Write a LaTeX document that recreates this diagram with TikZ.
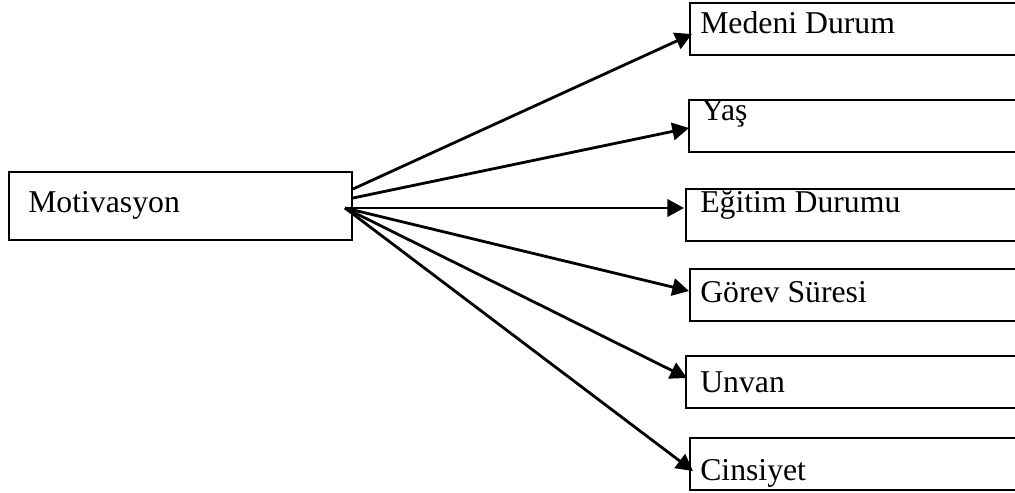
\documentclass[tikz,border=0pt]{standalone}
\usepackage{fontspec}
\setmainfont{Liberation Serif}
\usepackage{tikz}
\usetikzlibrary{arrows.meta,calc}
\tikzstyle{box:main}=[draw,line width=1.5pt,inner sep=0pt,anchor=north west,minimum width=257.25pt,minimum height=51pt]
\tikzstyle{box:factor}=[draw,line width=1.5pt,inner sep=0pt,anchor=north west,minimum width=257.25pt,minimum height=39pt]
\tikzstyle{text:label}=[anchor=base west,inner sep=0pt,font=\fontsize{23.8}{28}\selectfont]
\tikzstyle{draw:arrow}=[-{Triangle[length=12.5pt,width=13pt]},line width=2.1pt]

\begin{document}
\begin{tikzpicture}[x=0.75pt,y=-0.75pt]
        \useasboundingbox (0,0) rectangle (1015,493);
        \clip (0,0) rectangle (1015,493);

        % Main box
        \node[box:main] (mot) at (8,171) {};
        \node[text:label] (tmot) at (28,212) {Motivasyon};

        % Factor boxes
        \node[box:factor] (medeni) at (689,2) {};
        \node[box:factor] (yas) at (688,99) {};
        \node[box:factor] (egitim) at (685,188) {};
        \node[box:factor] (gorev) at (689,268) {};
        \node[box:factor] (unvan) at (685,355) {};
        \node[box:factor] (cinsiyet) at (689,437) {};

        % Factor labels
        \node[text:label] (tmedeni) at (700,33) {Medeni Durum};
        \node[text:label] (tyas) at (701,120) {Yaş};
        \node[text:label] (tegitim) at (700,212) {Eğitim Durumu};
        \node[text:label] (tgorev) at (700,302) {Görev Süresi};
        \node[text:label] (tunvan) at (700,392) {Unvan};
        \node[text:label] (tcinsiyet) at (700,480) {Cinsiyet};

        % Arrows from the main box
        \draw[draw:arrow] ($(mot.east)+(0,-17)$) -- ($(medeni.west)+(3,5)$);
        \draw[draw:arrow] ($(mot.east)+(0,-8)$) -- ($(yas.west)+(1,2)$);
        \draw[draw:arrow] ($(mot.east)+(-8,2)$) -- ($(egitim.west)+(-1,-7)$);
        \draw[draw:arrow] ($(mot.east)+(-8,2)$) -- ($(gorev.west)+(0,-4)$);
        \draw[draw:arrow] ($(mot.east)+(-8,2)$) -- ($(unvan.west)+(2,-4)$);
        \draw[draw:arrow] ($(mot.east)+(-8,2)$) -- ($(cinsiyet.west)+(4,7)$);

    \end{tikzpicture}
\end{document}
